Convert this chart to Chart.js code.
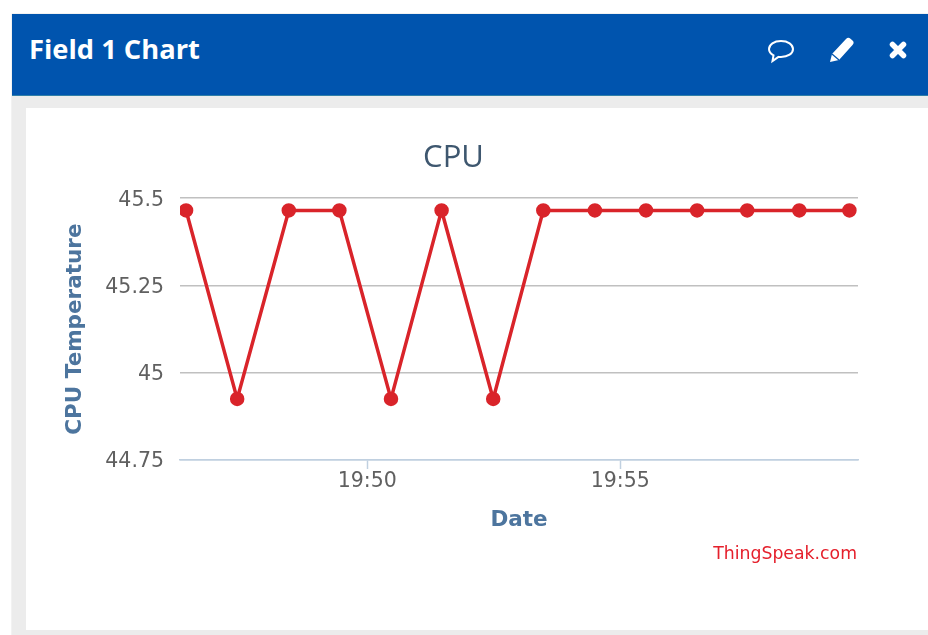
<!DOCTYPE html>
<html lang="en">
<head>
    <meta charset="UTF-8">
    <title>Field 1 Chart</title>
    <script src="https://cdn.jsdelivr.net/npm/chart.js"></script>
    <style>
        html, body { margin: 0; padding: 0; background: #fff; overflow: hidden; }
        #panel { position: absolute; left: 12px; top: 14px; width: 916px; height: 621px; background: #ececec; box-shadow: 0 0 1px #b0b0b0; }
        #header { position: absolute; left: 0; top: 0; right: 0; height: 82px; background: #0054ae; border-bottom: 1px solid #2f7fa8; box-sizing: border-box; }
        #header h1 { position: absolute; left: 17px; top: 17px; margin: 0; color: #fff; font: bold 27.3px "Open Sans", sans-serif; line-height: 36px; }
        #header svg { position: absolute; }
        #card { position: absolute; left: 14px; top: 94px; width: 902px; height: 522px; background: #fff; }
        #credit { position: absolute; right: 71px; top: 435px; color: #e5202c; font: 17.3px "DejaVu Sans", sans-serif; line-height: 20px; }
    </style>
</head>
<body>
    <div id="panel">
        <div id="header">
            <h1>Field 1 Chart</h1>
            <svg style="left:754px;top:22px" width="30" height="30" viewBox="0 0 30 30">
                <path d="M15 5C8 5 3 8.500 3 13c0 3 2 5 4.500 6.300L6.500 25l6-4.100c.8.100 1.600.100 2.500.100 7 0 12-3.500 12-8s-5-8-12-8z" fill="none" stroke="#fff" stroke-width="2"/>
            </svg>
            <svg style="left:816px;top:20px" width="28" height="30" viewBox="0 0 28 30">
                <path d="M2 28l2-8L18 5c1.500-1.500 3-1.500 4.500-.200l2 1.800c1.500 1.400 1.500 3 0 4.400L11 26z" fill="#fff"/>
                <path d="M4 20l7 6" stroke="#0054ae" stroke-width="1.2"/>
            </svg>
            <svg style="left:875px;top:25px" width="22" height="22" viewBox="0 0 22 22">
                <path d="M5.500 5.500L16.500 16.500M16.500 5.500L5.500 16.500" stroke="#fff" stroke-width="5.500" stroke-linecap="round"/>
            </svg>
        </div>
        <div id="card">
            <canvas id="fieldChart" width="902" height="522"></canvas>
            <div id="credit">ThingSpeak.com</div>
        </div>
    </div>
    <script>
        // minutes past 19:00
        const minutes = [46.42, 47.43, 48.45, 49.45, 50.47, 51.47, 52.49, 53.48, 54.5, 55.51, 56.52, 57.51, 58.54, 59.53];
        const temperature = [45.465, 44.925, 45.465, 45.465, 44.925, 45.465, 44.925, 45.465, 45.465, 45.465, 45.465, 45.465, 45.465, 45.465];
        const xTickMinutes = [50, 55];
        const xTickLabels = ['19:50', '19:55'];
        const yTickLabels = ['44.75', '45', '45.25', '45.5'];

        const tickFont = { family: '"DejaVu Sans", sans-serif', size: 20.5 };
        const axisTitleFont = { family: '"DejaVu Sans", sans-serif', size: 21.5, weight: 'bold' };

        new Chart(document.getElementById('fieldChart').getContext('2d'), {
            type: 'line',
            data: {
                datasets: [{
                    label: 'CPU',
                    data: minutes.map((m, i) => ({ x: m, y: temperature[i] })),
                    borderColor: '#d9242a',
                    backgroundColor: '#d9242a',
                    borderWidth: 3.5,
                    pointRadius: 5.5,
                    tension: 0
                }]
            },
            options: {
                responsive: false,
                animation: false,
                layout: { padding: { left: 23, right: 70, top: 0, bottom: 97 } },
                plugins: {
                    legend: { display: false },
                    tooltip: { enabled: false },
                    title: {
                        display: true,
                        text: 'CPU',
                        color: '#3e576f',
                        font: { family: '"Open Sans", sans-serif', size: 31, weight: 'normal' },
                        padding: { top: 32, bottom: 21 }
                    }
                },
                scales: {
                    x: {
                        type: 'linear',
                        min: 46.3,
                        max: 59.7,
                        afterBuildTicks: axis => { axis.ticks = xTickMinutes.map(v => ({ value: v })); },
                        afterFit: axis => { axis.height = 73; },
                        ticks: {
                            color: '#606060',
                            font: tickFont,
                            padding: 0,
                            maxRotation: 0,
                            callback: value => xTickLabels[xTickMinutes.indexOf(value)]
                        },
                        grid: { drawOnChartArea: false, tickLength: 9, tickColor: '#c0d0e0', tickWidth: 1.5 },
                        border: { color: '#c0d0e0', width: 1.5 },
                        title: { display: true, text: 'Date', color: '#4d759e', font: axisTitleFont, padding: 0 }
                    },
                    y: {
                        min: 44.75,
                        max: 45.5,
                        afterBuildTicks: axis => { axis.ticks = yTickLabels.map(v => ({ value: Number(v) })); },
                        afterFit: axis => { axis.width = 131; },
                        ticks: {
                            color: '#606060',
                            font: tickFont,
                            padding: 16,
                            labelOffset: 2,
                            callback: value => yTickLabels[yTickLabels.indexOf(String(value))]
                        },
                        grid: {
                            drawTicks: false,
                            color: ctx => ctx.tick && ctx.tick.value === 44.75 ? '#c0d0e0' : '#c0c0c0',
                            lineWidth: 1.5
                        },
                        border: { display: false },
                        title: { display: true, text: 'CPU Temperature', color: '#4d759e', font: axisTitleFont, padding: { top: 14, bottom: 0 } }
                    }
                }
            }
        });
    </script>
</body>
</html>
